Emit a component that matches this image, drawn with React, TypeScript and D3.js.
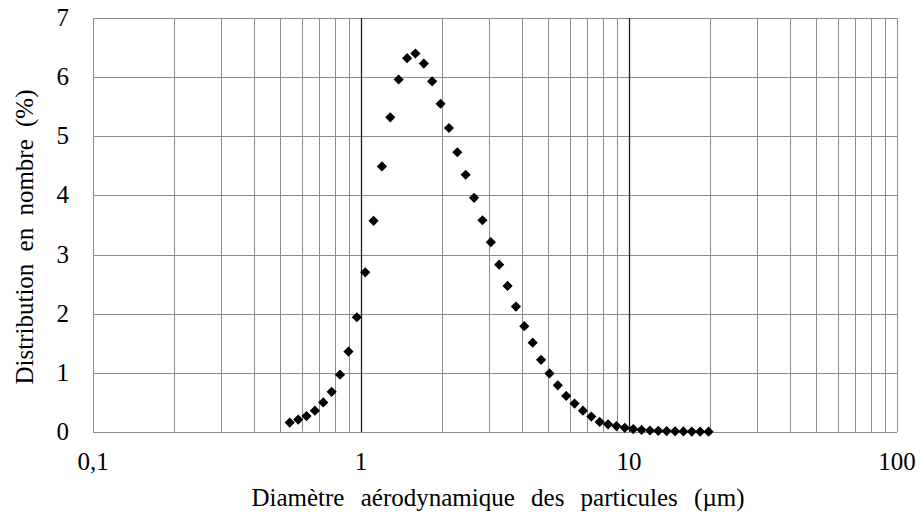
import React, { useRef, useEffect } from 'react';
import * as d3 from 'd3';

// APS channel midpoints (µm) and number distribution (%)
const diameters = [
  0.542, 0.583, 0.626, 0.673, 0.723, 0.777, 0.835, 0.898, 0.965, 1.037,
  1.114, 1.197, 1.286, 1.382, 1.486, 1.596, 1.715, 1.843, 1.981, 2.129,
  2.288, 2.458, 2.642, 2.839, 3.051, 3.278, 3.523, 3.786, 4.068, 4.371,
  4.698, 5.048, 5.425, 5.829, 6.264, 6.732, 7.234, 7.774, 8.354, 8.977,
  9.647, 10.37, 11.14, 11.97, 12.86, 13.82, 14.86, 15.96, 17.15, 18.43, 19.81,
];
const distribution = [
  0.16, 0.21, 0.27, 0.36, 0.5, 0.68, 0.97, 1.36, 1.94, 2.7,
  3.57, 4.49, 5.32, 5.96, 6.32, 6.4, 6.23, 5.93, 5.55, 5.14,
  4.73, 4.35, 3.96, 3.58, 3.21, 2.83, 2.47, 2.12, 1.79, 1.51,
  1.22, 0.99, 0.79, 0.61, 0.48, 0.36, 0.26, 0.17, 0.13, 0.1,
  0.07, 0.05, 0.035, 0.025, 0.02, 0.015, 0.012, 0.01, 0.008, 0.006, 0.005,
];
const xTicks = [0.1, 1, 10, 100];
const xTickLabels = ['0,1', '1', '10', '100'];
const yTicks = [0, 1, 2, 3, 4, 5, 6, 7];

const App: React.FC = () => {
  const svgRef = useRef<SVGSVGElement>(null);
  const width = 920;
  const height = 515;

  useEffect(() => {
    document.body.style.margin = '0';
    if (!svgRef.current) return;
    const svg = d3.select(svgRef.current);
    svg.selectAll('*').remove();

    const margin = { top: 18, right: 23, bottom: 83, left: 93 };
    const innerWidth = width - margin.left - margin.right;
    const innerHeight = height - margin.top - margin.bottom;
    const font = '"Liberation Serif", "Times New Roman", serif';

    const x = d3.scaleLog().domain([0.1, 100]).range([0, innerWidth]);
    const y = d3.scaleLinear().domain([0, 7]).range([innerHeight, 0]);

    const g = svg.append('g').attr('transform', `translate(${margin.left},${margin.top})`);

    // horizontal grid
    g.selectAll('line.hgrid')
      .data(yTicks)
      .enter()
      .append('line')
      .attr('x1', 0)
      .attr('x2', innerWidth)
      .attr('y1', d => Math.round(y(d)) + 0.5)
      .attr('y2', d => Math.round(y(d)) + 0.5)
      .attr('stroke', '#8c8c8c')
      .attr('stroke-width', 1);

    // vertical grid (minor + decades)
    const vLines: number[] = [];
    [0.1, 1, 10].forEach(dec => {
      for (let k = 1; k <= 9; k++) vLines.push(dec * k);
    });
    vLines.push(100);
    g.selectAll('line.vgrid')
      .data(vLines)
      .enter()
      .append('line')
      .attr('x1', d => Math.round(x(d)) + 0.5)
      .attr('x2', d => Math.round(x(d)) + 0.5)
      .attr('y1', 0)
      .attr('y2', innerHeight)
      .attr('stroke', d => (d === 1 || d === 10 ? '#222' : '#8c8c8c'))
      .attr('stroke-width', d => (d === 1 || d === 10 ? 1.3 : 1));

    // points
    const symbol = d3.symbol().type(d3.symbolSquare).size(52);
    g.selectAll('path.pt')
      .data(diameters.map((d, i) => ({ d, v: distribution[i] })))
      .enter()
      .append('path')
      .attr('d', symbol)
      .attr('transform', p => `translate(${x(p.d)},${y(p.v)}) rotate(45)`)
      .attr('fill', '#000');

    // y tick labels
    g.selectAll('text.ytick')
      .data(yTicks)
      .enter()
      .append('text')
      .attr('x', -24)
      .attr('y', d => y(d) + 8)
      .attr('text-anchor', 'end')
      .attr('font-family', font)
      .attr('font-size', 25)
      .attr('fill', '#000')
      .text(d => String(d));

    // x tick labels
    g.selectAll('text.xtick')
      .data(xTicks)
      .enter()
      .append('text')
      .attr('x', d => x(d))
      .attr('y', innerHeight + 38)
      .attr('text-anchor', 'middle')
      .attr('font-family', font)
      .attr('font-size', 25)
      .attr('fill', '#000')
      .text((d, i) => xTickLabels[i]);

    // axis titles
    g.append('text')
      .attr('x', innerWidth / 2 + 3)
      .attr('y', innerHeight + 74)
      .attr('text-anchor', 'middle')
      .attr('font-family', font)
      .attr('font-size', 25)
      .attr('word-spacing', 10)
      .attr('fill', '#000')
      .text('Diamètre aérodynamique des particules (µm)');

    g.append('text')
      .attr('transform', 'rotate(-90)')
      .attr('x', -innerHeight / 2 - 12)
      .attr('y', -60)
      .attr('text-anchor', 'middle')
      .attr('font-family', font)
      .attr('font-size', 25)
      .attr('word-spacing', 6)
      .attr('fill', '#000')
      .text('Distribution en nombre (%)');
  }, []);

  return <svg ref={svgRef} width={width} height={height} style={{ display: 'block', background: '#fff' }} />;
};

export default App;
